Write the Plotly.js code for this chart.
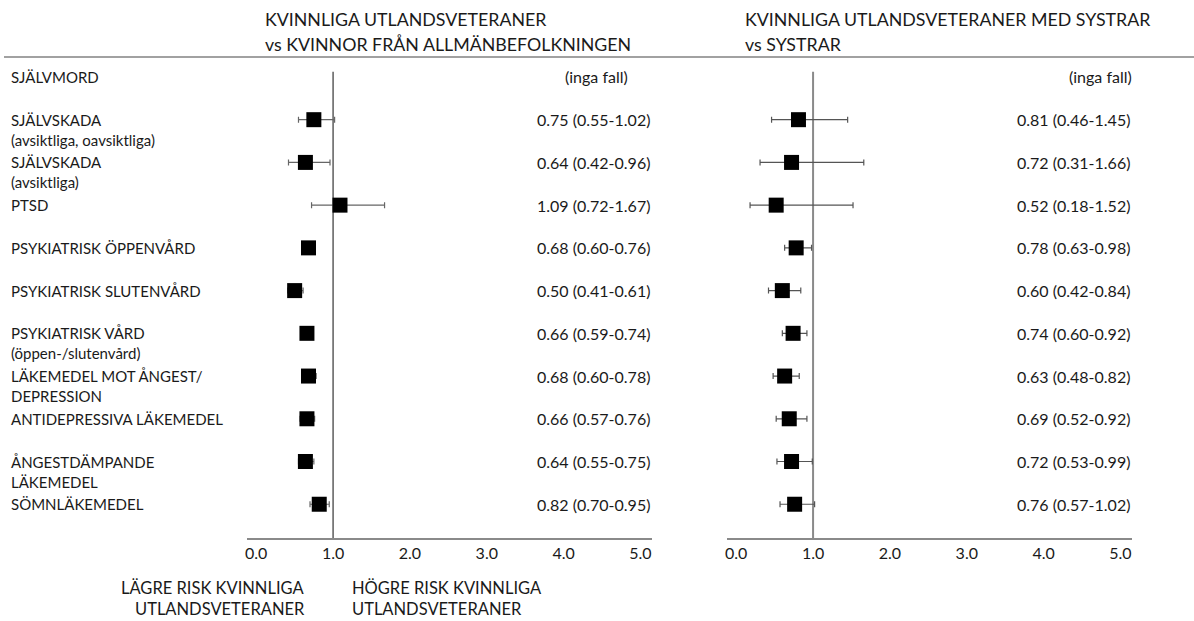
<!DOCTYPE html>
<html>
<head>
<meta charset="utf-8">
<script src="https://cdn.plot.ly/plotly-3.0.1.min.js"></script>
<style>
  html, body { margin: 0; padding: 0; background: #fff; }
  #chart { width: 1194px; height: 621px; }
</style>
</head>
<body>
<div id="chart"></div>
<script>
// ---- DATA ----
const outcomes = [
  "SJÄLVMORD",
  "SJÄLVSKADA<br>(avsiktliga, oavsiktliga)",
  "SJÄLVSKADA<br>(avsiktliga)",
  "PTSD",
  "PSYKIATRISK ÖPPENVÅRD",
  "PSYKIATRISK SLUTENVÅRD",
  "PSYKIATRISK VÅRD<br>(öppen-/slutenvård)",
  "LÄKEMEDEL MOT ÅNGEST/<br>DEPRESSION",
  "ANTIDEPRESSIVA LÄKEMEDEL",
  "ÅNGESTDÄMPANDE<br>LÄKEMEDEL",
  "SÖMNLÄKEMEDEL"
];
// Left panel: female veterans vs women from general population
const leftEst = [null, 0.75, 0.64, 1.09, 0.68, 0.50, 0.66, 0.68, 0.66, 0.64, 0.82];
const leftLo  = [null, 0.55, 0.42, 0.72, 0.60, 0.41, 0.59, 0.60, 0.57, 0.55, 0.70];
const leftHi  = [null, 1.02, 0.96, 1.67, 0.76, 0.61, 0.74, 0.78, 0.76, 0.75, 0.95];
// Right panel: female veterans with sisters vs sisters
const rightEst = [null, 0.81, 0.72, 0.52, 0.78, 0.60, 0.74, 0.63, 0.69, 0.72, 0.76];
const rightLo  = [null, 0.46, 0.31, 0.18, 0.63, 0.42, 0.60, 0.48, 0.52, 0.53, 0.57];
const rightHi  = [null, 1.45, 1.66, 1.52, 0.98, 0.84, 0.92, 0.82, 0.92, 0.99, 1.02];

const leftTitle = ["KVINNLIGA UTLANDSVETERANER", "vs KVINNOR FRÅN ALLMÄNBEFOLKNINGEN"];
const rightTitle = ["KVINNLIGA UTLANDSVETERANER MED SYSTRAR", "vs SYSTRAR"];
const xTickVals = [0, 1, 2, 3, 4, 5];
const xTickText = ["0.0", "1.0", "2.0", "3.0", "4.0", "5.0"];
const lowerRiskText = ["LÄGRE RISK KVINNLIGA", "UTLANDSVETERANER"];
const higherRiskText = ["HÖGRE RISK KVINNLIGA", "UTLANDSVETERANER"];
const noCasesText = "(inga fall)";

// ---- LAYOUT HELPERS ----
const W = 1194, H = 621;
const FONT = "Lato, 'Open Sans', sans-serif";
const TXT = "#1a1a1a";
const px = v => v / W;
const py = v => 1 - v / H;
const rowIdx = outcomes.map((_, i) => i);
const xRange = [-0.12, 5.15];
const yRange = [10.79, -0.42];

function fmt(v) { return v.toFixed(2); }
function ciText(e, l, h) {
  return e === null ? noCasesText : fmt(e) + " (" + fmt(l) + "-" + fmt(h) + ")";
}

function panelTrace(est, lo, hi, xa, ya, barColor) {
  return {
    type: "scatter", mode: "markers",
    x: est, y: rowIdx, xaxis: xa, yaxis: ya,
    marker: { symbol: "square", size: 15, color: "#000", line: { width: 0 } },
    error_x: {
      type: "data", symmetric: false,
      array: est.map((e, i) => e === null ? null : hi[i] - e),
      arrayminus: est.map((e, i) => e === null ? null : e - lo[i]),
      color: barColor, thickness: 1.2, width: 3
    },
    hoverinfo: "skip", showlegend: false, cliponaxis: false
  };
}

const data = [
  panelTrace(leftEst, leftLo, leftHi, "x", "y", "#666"),
  panelTrace(rightEst, rightLo, rightHi, "x2", "y2", "#555")
];

const annotations = [];
// row labels
outcomes.forEach((lab, i) => {
  lab.split("<br>").forEach((line, k) => {
    annotations.push({
      xref: "paper", yref: "y", x: px(9), y: i, xanchor: "left", yanchor: "middle",
      yshift: -20 * k, text: line, showarrow: false,
      font: { family: FONT, size: 15, color: TXT }
    });
  });
});
// CI texts
function addCI(est, lo, hi, xr, yr, noCaseShift) {
  est.forEach((e, i) => {
    annotations.push({
      xref: xr, yref: yr, x: xRange[1], y: i, xanchor: "right", yanchor: "middle",
      xshift: e === null ? noCaseShift : 0,
      text: ciText(e, lo[i], hi[i]), showarrow: false,
      font: { family: FONT, size: 16, color: TXT }
    });
  });
}
addCI(leftEst, leftLo, leftHi, "x", "y", -22);
addCI(rightEst, rightLo, rightHi, "x2", "y2", 2);

// titles
function addTitle(lines, xPix) {
  lines.forEach((line, k) => {
    annotations.push({
      xref: "paper", yref: "paper", x: px(xPix), y: py(19 + 25 * k),
      xanchor: "left", yanchor: "middle", text: line, showarrow: false,
      font: { family: FONT, size: 17.8, color: TXT }
    });
  });
}
addTitle(leftTitle, 263);
addTitle(rightTitle, 743);

// bottom risk texts
lowerRiskText.forEach((line, k) => {
  annotations.push({
    xref: "paper", yref: "paper", x: px(307), y: py(588 + 21 * k),
    xanchor: "right", yanchor: "middle", text: line, showarrow: false,
    font: { family: FONT, size: 16.5, color: TXT }
  });
});
higherRiskText.forEach((line, k) => {
  annotations.push({
    xref: "paper", yref: "paper", x: px(350), y: py(588 + 21 * k),
    xanchor: "left", yanchor: "middle", text: line, showarrow: false,
    font: { family: FONT, size: 16.5, color: TXT }
  });
});

const shapes = [
  // top rule
  { type: "line", xref: "paper", yref: "paper", x0: px(4), x1: 1, y0: py(57), y1: py(57),
    line: { color: "#444", width: 1.2 } },
  // reference lines at 1
  { type: "line", xref: "x", yref: "y", x0: 1, x1: 1, y0: -0.12, y1: yRange[0],
    line: { color: "#333", width: 1.2 }, layer: "below" },
  { type: "line", xref: "x2", yref: "y2", x0: 1, x1: 1, y0: -0.12, y1: yRange[0],
    line: { color: "#8a8a8a", width: 2 }, layer: "below" }
];

function xAxis(domain) {
  return {
    domain: domain, range: xRange, tickvals: xTickVals, ticktext: xTickText,
    showline: true, linecolor: "#8a8a8a", linewidth: 2, ticks: "",
    showgrid: false, zeroline: false, fixedrange: true,
    tickfont: { family: FONT, size: 16, color: TXT }
  };
}
function yAxis(anchor) {
  return {
    domain: [1 - 538 / H, 1 - 59 / H], range: yRange, anchor: anchor,
    showticklabels: false, showgrid: false, zeroline: false, showline: false,
    ticks: "", fixedrange: true
  };
}

const layout = {
  width: W, height: H,
  margin: { l: 0, r: 0, t: 0, b: 0 },
  paper_bgcolor: "#fff", plot_bgcolor: "rgba(0,0,0,0)",
  xaxis: Object.assign(xAxis([px(247), px(652)]), { anchor: "y" }),
  yaxis: yAxis("x"),
  xaxis2: Object.assign(xAxis([px(727), px(1132)]), { anchor: "y2" }),
  yaxis2: yAxis("x2"),
  annotations: annotations,
  shapes: shapes,
  showlegend: false,
  font: { family: FONT, color: TXT }
};

Plotly.newPlot("chart", data, layout, { displayModeBar: false, staticPlot: true });
</script>
</body>
</html>
